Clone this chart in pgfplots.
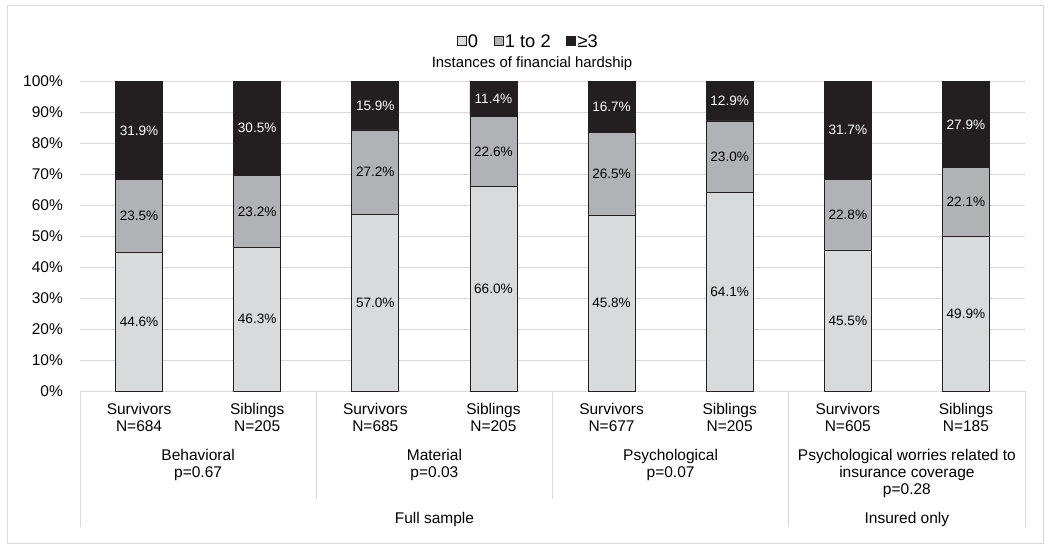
\documentclass[border=0pt]{standalone}
\usepackage{pgfplots}
\pgfplotsset{compat=1.18}
\usepackage{pgfplotstable}
\usepackage{fontspec}
\setmainfont{Liberation Sans}

\definecolor{lowc}{HTML}{D9DADC}
\definecolor{midc}{HTML}{B1B2B5}
\definecolor{highc}{HTML}{231F20}
\definecolor{gridc}{HTML}{D9D9D9}

% x, bar height and printed label for each segment
\pgfplotstableread{
x zero zl one ol three tl
0 44.6 44.6 23.5 23.5 31.9 31.9
1 46.3 46.3 23.2 23.2 30.5 30.5
2 57.0 57.0 27.2 27.2 15.8 15.9
3 66.0 66.0 22.6 22.6 11.4 11.4
4 56.8 45.8 26.5 26.5 16.7 16.7
5 64.1 64.1 23.0 23.0 12.9 12.9
6 45.5 45.5 22.8 22.8 31.7 31.7
7 49.9 49.9 22.1 22.1 28.0 27.9
}\hardship

\begin{document}
\begin{tikzpicture}[font=\fontsize{15.5}{17}\selectfont]
\useasboundingbox (0pt,0pt) rectangle (1050pt,-551pt);
\draw[gridc, line width=1pt] (7pt,-6pt) rectangle (1043pt,-543pt);

\begin{axis}[
    at={(80pt,-391pt)}, anchor=south west,
    scale only axis,
    width=945pt, height=310pt,
    ybar stacked,
    bar width=47pt,
    xmin=-0.5, xmax=7.5,
    ymin=0, ymax=100,
    ytick={0,10,...,100},
    yticklabel={\pgfmathprintnumber{\tick}\%},
    /pgf/number format/assume math mode=true,
    ymajorgrids,
    grid style={gridc, line width=1pt},
    axis line style={draw=none},
    major tick length=0pt,
    xtick={0,...,7},
    xticklabels={{Survivors\\N=684},{Siblings\\N=205},{Survivors\\N=685},{Siblings\\N=205},
                 {Survivors\\N=677},{Siblings\\N=205},{Survivors\\N=605},{Siblings\\N=185}},
    xticklabel style={align=center, anchor=north, inner sep=0pt, yshift=-12pt},
    yticklabel style={anchor=east, inner sep=0pt, xshift=-17pt},
    clip=false,
    point meta=explicit symbolic,
    nodes near coords={\pgfplotspointmeta\%},
    every node near coord/.append style={anchor=center, inner sep=0pt,
        font=\fontsize{13.6}{16}\selectfont},
    legend columns=3,
    legend style={at={(0.474,1)}, anchor=center, yshift=39pt, draw=none,
        font=\fontsize{18.3}{20}\selectfont,
        nodes={inner sep=1.5pt},
        /tikz/every even column/.append style={column sep=14pt}},
    legend image code/.code={\draw[#1, draw=highc, line width=0.8pt] (0pt,-3pt) rectangle (9pt,6pt);},
]
\addplot[fill=lowc, draw=highc, line width=0.8pt] table[x=x, y=zero, meta=zl] {\hardship};
\addplot[fill=midc, draw=highc, line width=0.8pt] table[x=x, y=one, meta=ol] {\hardship};
\addplot[fill=highc, draw=highc, line width=0.8pt,
    every node near coord/.append style={text=white}] table[x=x, y=three, meta=tl] {\hardship};
\legend{0, 1 to 2, ≥3}
\end{axis}

\node[font=\fontsize{14.9}{17}\selectfont] at (532pt,-64pt) {Instances of financial hardship};

% category separators
\draw[gridc, line width=1pt] (80pt,-391pt) -- (80pt,-527pt);
\draw[gridc, line width=1pt] (316.25pt,-391pt) -- (316.25pt,-499pt);
\draw[gridc, line width=1pt] (552.5pt,-391pt) -- (552.5pt,-499pt);
\draw[gridc, line width=1pt] (788.75pt,-391pt) -- (788.75pt,-527pt);
\draw[gridc, line width=1pt] (1025pt,-391pt) -- (1025pt,-527pt);

% group labels
\begin{scope}[every node/.style={align=center, anchor=north, inner sep=0pt}]
\node at (198.1pt,-449pt) {Behavioral\\p=0.67};
\node at (434.4pt,-449pt) {Material\\p=0.03};
\node at (670.6pt,-449pt) {Psychological\\p=0.07};
\node at (906.9pt,-449pt) {Psychological worries related to\\insurance coverage\\p=0.28};
\node at (434.4pt,-512pt) {Full sample};
\node at (906.9pt,-512pt) {Insured only};
\end{scope}
\end{tikzpicture}
\end{document}
